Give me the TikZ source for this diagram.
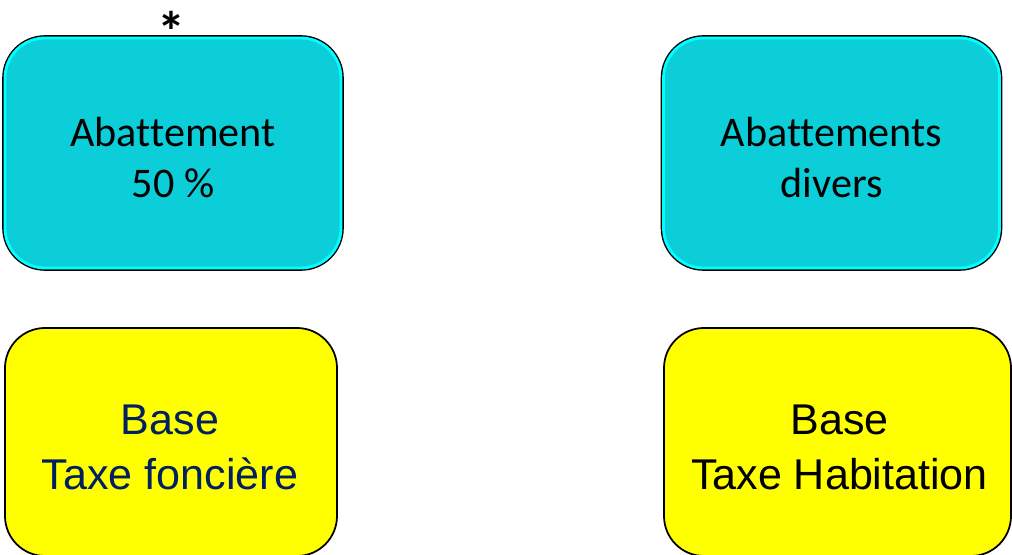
\documentclass[tikz,border=0pt]{standalone}
\usepackage{fontspec}
\setmainfont{Carlito}[Ligatures=NoCommon]
\newfontfamily\arialfont{Liberation Sans}
\definecolor{boxcyan}{RGB}{11,206,216}
\definecolor{glowcyan}{RGB}{0,255,255}
\definecolor{navy}{RGB}{0,32,96}
\definecolor{pureyellow}{RGB}{255,255,0}
\begin{document}
\begin{tikzpicture}[
        abatbox/.style={rounded corners=0.8cm,fill=boxcyan,draw=glowcyan,line width=1.6pt,
            preaction={draw=black,line width=3.2pt},
            minimum width=6.72cm,minimum height=4.6cm},
        abattext/.style={align=center,font=\fontsize{24}{29}\selectfont},
        basebox/.style={rounded corners=0.8cm,fill=pureyellow,draw=black,line width=1pt,
            minimum height=4.56cm},
        basetext/.style={align=center,font=\arialfont\fontsize{24.5}{31.5}\selectfont}]
        \clip (0,0) rectangle (20.24,11.08);
        %% Abattements
        \node[abatbox] (abat50) at (3.46,8.02) {};
        \node[abatbox] (abatdiv) at (16.63,8.02) {};
        \node[abattext] (abat50txt) at ([yshift=-0.09cm]abat50.center) {Abattement\\ 50 \%};
        \node[abattext] (abatdivtxt) at ([yshift=-0.09cm]abatdiv.center) {Abattements\\divers};
        \node[font=\bfseries\fontsize{32}{40}\selectfont] (star) at (3.44,10.45) {*};
        %% Bases
        \node[basebox,minimum width=6.64cm] (basetf) at (3.42,2.24) {};
        \node[basebox,minimum width=6.94cm] (baseth) at (16.75,2.24) {};
        \node[basetext,text=navy] (basetftxt) at ([xshift=-0.02cm,yshift=-0.11cm]basetf.center) {Base\\Taxe foncière};
        \node[basetext] (basethtxt) at ([xshift=0.04cm,yshift=-0.11cm]baseth.center) {Base\\Taxe Habitation};
    \end{tikzpicture}
\end{document}
